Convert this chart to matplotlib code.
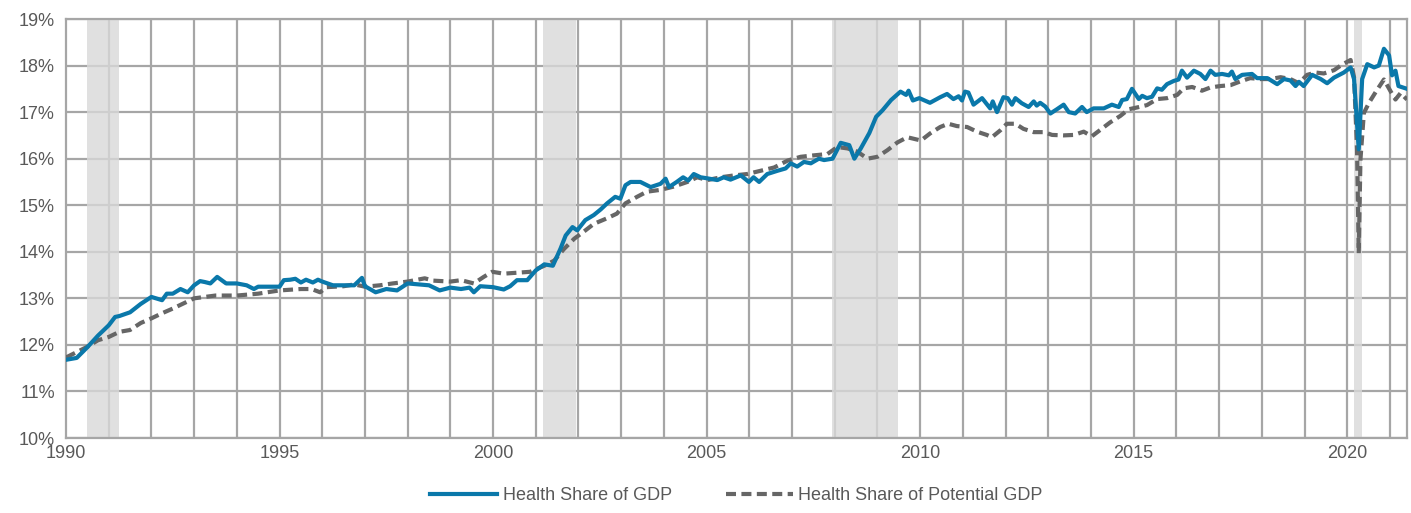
import matplotlib
matplotlib.use("Agg")
import matplotlib.pyplot as plt
from matplotlib import font_manager as fm

# ---- data ----
gdp_x = [1990.0, 1990.25, 1990.5, 1990.75, 1991.0, 1991.15, 1991.25, 1991.5, 1991.75, 1992.0, 1992.25, 1992.36,
         1992.5, 1992.68, 1992.85, 1993.0, 1993.14, 1993.25, 1993.38, 1993.54, 1993.75, 1994.0, 1994.23, 1994.4,
         1994.5, 1994.75, 1995.0, 1995.1, 1995.25, 1995.37, 1995.5, 1995.62, 1995.78, 1995.9, 1996.0, 1996.25,
         1996.5, 1996.75, 1996.93, 1997.0, 1997.25, 1997.5, 1997.75, 1998.0, 1998.25, 1998.5, 1998.75, 1999.0,
         1999.25, 1999.45, 1999.55, 1999.7, 2000.0, 2000.25, 2000.4, 2000.56, 2000.8, 2001.0, 2001.2, 2001.4,
         2001.58, 2001.7, 2001.86, 2001.97, 2002.16, 2002.36, 2002.52, 2002.67, 2002.86, 2002.98, 2003.1,
         2003.22, 2003.45, 2003.69, 2003.92, 2004.04, 2004.12, 2004.3, 2004.45, 2004.57, 2004.7, 2004.86,
         2005.0, 2005.25, 2005.4, 2005.56, 2005.8, 2005.99, 2006.1, 2006.23, 2006.42, 2006.66, 2006.85,
         2006.97, 2007.12, 2007.28, 2007.44, 2007.63, 2007.75, 2007.95, 2008.14, 2008.34, 2008.46, 2008.61,
         2008.81, 2008.97, 2009.12, 2009.32, 2009.54, 2009.67, 2009.73, 2009.83, 2009.98, 2010.23, 2010.47,
         2010.63, 2010.78, 2010.9, 2010.98, 2011.05, 2011.13, 2011.25, 2011.45, 2011.64, 2011.7, 2011.8,
         2011.95, 2012.05, 2012.15, 2012.23, 2012.38, 2012.54, 2012.66, 2012.73, 2012.81, 2012.93, 2013.05,
         2013.2, 2013.36, 2013.48, 2013.63, 2013.79, 2013.9, 2014.06, 2014.3, 2014.49, 2014.65, 2014.73,
         2014.84, 2014.96, 2015.12, 2015.2, 2015.31, 2015.43, 2015.55, 2015.66, 2015.78, 2015.94, 2016.05,
         2016.13, 2016.25, 2016.41, 2016.56, 2016.68, 2016.8, 2016.91, 2017.07, 2017.23, 2017.3, 2017.38,
         2017.54, 2017.77, 2017.89, 2018.13, 2018.36, 2018.52, 2018.67, 2018.79, 2018.87, 2018.98, 2019.18,
         2019.38, 2019.53, 2019.69, 2019.92, 2020.08, 2020.16, 2020.27, 2020.35, 2020.47, 2020.63, 2020.74,
         2020.86, 2020.98, 2021.05, 2021.13, 2021.2, 2021.4]
gdp_y = [11.68, 11.72, 11.95, 12.2, 12.42, 12.6, 12.62, 12.7, 12.88, 13.03, 12.96, 13.1,
         13.1, 13.2, 13.13, 13.28, 13.37, 13.35, 13.32, 13.46, 13.32, 13.32, 13.28, 13.2,
         13.25, 13.25, 13.25, 13.39, 13.4, 13.42, 13.34, 13.4, 13.34, 13.4, 13.36, 13.28,
         13.28, 13.28, 13.44, 13.26, 13.13, 13.2, 13.17, 13.32, 13.3, 13.28, 13.17, 13.23,
         13.2, 13.23, 13.13, 13.26, 13.24, 13.19, 13.26, 13.39, 13.39, 13.6, 13.73, 13.7,
         14.07, 14.35, 14.53, 14.46, 14.68, 14.79, 14.91, 15.04, 15.18, 15.14, 15.43,
         15.5, 15.5, 15.39, 15.46, 15.57, 15.39, 15.5, 15.6, 15.53, 15.67, 15.6,
         15.58, 15.54, 15.6, 15.55, 15.64, 15.5, 15.6, 15.5, 15.67, 15.74, 15.79,
         15.9, 15.83, 15.93, 15.9, 16.0, 15.97, 16.0, 16.34, 16.29, 16.0, 16.22,
         16.55, 16.9, 17.04, 17.26, 17.44, 17.37, 17.46, 17.25, 17.3, 17.2, 17.32,
         17.39, 17.28, 17.34, 17.25, 17.44, 17.42, 17.16, 17.3, 17.08, 17.23, 17.0,
         17.32, 17.3, 17.16, 17.3, 17.19, 17.11, 17.23, 17.14, 17.2, 17.12, 16.97,
         17.06, 17.16, 17.0, 16.97, 17.11, 17.0, 17.08, 17.08, 17.16, 17.11, 17.26,
         17.28, 17.5, 17.28, 17.35, 17.3, 17.33, 17.51, 17.48, 17.6, 17.67, 17.7,
         17.89, 17.74, 17.89, 17.82, 17.71, 17.89, 17.8, 17.82, 17.79, 17.87, 17.71,
         17.8, 17.82, 17.73, 17.73, 17.6, 17.71, 17.68, 17.56, 17.65, 17.56, 17.8,
         17.71, 17.62, 17.74, 17.85, 17.96, 17.71, 16.2, 17.71, 18.03, 17.96, 18.0,
         18.36, 18.22, 17.79, 17.89, 17.56, 17.5]

pot_x = [1990.0, 1990.5, 1990.75, 1991.0, 1991.25, 1991.5, 1991.75, 1992.0, 1992.25, 1992.5, 1992.75,
         1993.0, 1993.25, 1993.5, 1994.0, 1994.5, 1995.0, 1995.5, 1995.75, 1995.95, 1996.1, 1996.5,
         1996.75, 1997.0, 1997.35, 1997.65, 1998.0, 1998.4, 1998.6, 1999.0, 1999.25, 1999.55, 1999.78,
         1999.98, 2000.25, 2000.56, 2000.87, 2001.2, 2001.43, 2001.66, 2001.9, 2002.12, 2002.36, 2002.67,
         2002.9, 2003.1, 2003.37, 2003.6, 2003.92, 2004.23, 2004.55, 2004.78, 2005.02, 2005.33, 2005.64,
         2005.95, 2006.27, 2006.58, 2006.9, 2007.2, 2007.5, 2007.83, 2008.06, 2008.3, 2008.53, 2008.77,
         2009.0, 2009.23, 2009.47, 2009.7, 2010.02, 2010.23, 2010.47, 2010.66, 2010.86, 2011.1, 2011.33,
         2011.56, 2011.68, 2011.88, 2012.03, 2012.23, 2012.42, 2012.66, 2012.9, 2013.09, 2013.36, 2013.6,
         2013.83, 2014.02, 2014.22, 2014.45, 2014.69, 2014.88, 2015.08, 2015.31, 2015.55, 2015.78, 2016.02,
         2016.17, 2016.37, 2016.6, 2016.8, 2017.03, 2017.27, 2017.5, 2017.73, 2017.97, 2018.2, 2018.44,
         2018.67, 2018.87, 2019.06, 2019.26, 2019.45, 2019.69, 2019.88, 2020.08, 2020.16, 2020.23, 2020.27,
         2020.31, 2020.39, 2020.51, 2020.7, 2020.86, 2021.02, 2021.13, 2021.25, 2021.4]
pot_y = [11.73, 11.96, 12.1, 12.17, 12.28, 12.32, 12.47, 12.57, 12.68, 12.78, 12.89,
         13.0, 13.03, 13.06, 13.06, 13.1, 13.17, 13.2, 13.2, 13.13, 13.24, 13.26,
         13.3, 13.25, 13.28, 13.32, 13.36, 13.43, 13.38, 13.36, 13.39, 13.32, 13.46,
         13.57, 13.53, 13.55, 13.57, 13.7, 13.81, 14.06, 14.28, 14.43, 14.6, 14.72,
         14.82, 15.04, 15.18, 15.29, 15.33, 15.4, 15.5, 15.6, 15.54, 15.6, 15.64,
         15.67, 15.74, 15.81, 15.96, 16.04, 16.07, 16.1, 16.25, 16.22, 16.15, 16.0,
         16.04, 16.18, 16.35, 16.46, 16.39, 16.54, 16.68, 16.75, 16.7, 16.68, 16.58,
         16.51, 16.46, 16.61, 16.75, 16.75, 16.64, 16.57, 16.57, 16.51, 16.5, 16.51,
         16.58, 16.48, 16.62, 16.78, 16.92, 17.06, 17.1, 17.15, 17.28, 17.3, 17.37,
         17.51, 17.54, 17.46, 17.53, 17.56, 17.58, 17.66, 17.73, 17.71, 17.71, 17.75,
         17.71, 17.62, 17.8, 17.85, 17.83, 17.9, 18.02, 18.12, 17.75, 16.2, 13.97,
         15.98, 16.98, 17.2, 17.48, 17.7, 17.44, 17.27, 17.41, 17.27]

recessions = [(1990.5, 1991.24), (2001.17, 2001.94), (2007.94, 2009.48), (2020.16, 2020.35)]
year_labels = [1990, 1995, 2000, 2005, 2010, 2015, 2020]
pct_ticks = list(range(10, 20))
series_names = ["Health Share of GDP", "Health Share of Potential GDP"]

# ---- fonts ----
avail = {f.name for f in fm.fontManager.ttflist}
fam = "Liberation Sans Narrow" if "Liberation Sans Narrow" in avail else "Liberation Sans"
plt.rcParams['font.family'] = [fam, 'DejaVu Sans']

TXT = "#595959"
GRID = "#a6a6a6"

fig = plt.figure(figsize=(14.11, 5.13), dpi=100)
ax = fig.add_axes([66 / 1411, 1 - 438 / 513, (1407 - 66) / 1411, (438 - 19) / 513])

ax.set_xlim(1990, 2021.4)
ax.set_ylim(10, 19)

# grid
for yv in pct_ticks:
    ax.axhline(yv, color=GRID, lw=1.6, zorder=1)
for yr in range(1991, 2022):
    ax.axvline(yr, color=GRID, lw=1.6, zorder=1)

for a, b in recessions:
    ax.axvspan(a, b, color="#d9d9d9", alpha=0.8, lw=0, zorder=2)

ax.plot(pot_x, pot_y, color="#666666", lw=3, ls=(0, (2.4, 1.3)), zorder=3, label=series_names[1])
ax.plot(gdp_x, gdp_y, color="#0a78aa", lw=3, zorder=4, label=series_names[0])

ax.set_yticks(pct_ticks)
ax.set_yticklabels([f"{v}%" for v in pct_ticks])
ax.set_xticks(year_labels)
ax.set_xticklabels([str(y) for y in year_labels])
ax.tick_params(axis='both', length=0, labelsize=13, colors=TXT)
ax.tick_params(axis='y', pad=8)
ax.tick_params(axis='x', pad=5)
for s in ax.spines.values():
    s.set_color(GRID)
    s.set_linewidth(1.6)

h, l = ax.get_legend_handles_labels()
fig.legend([h[1], h[0]], [l[1], l[0]], loc='center', bbox_to_anchor=(0.522, 1 - 496 / 513),
           ncol=2, frameon=False, fontsize=13, labelcolor=TXT, handlelength=3.7,
           columnspacing=3.0, handletextpad=0.3)

fig.savefig("out.png", dpi=100)
